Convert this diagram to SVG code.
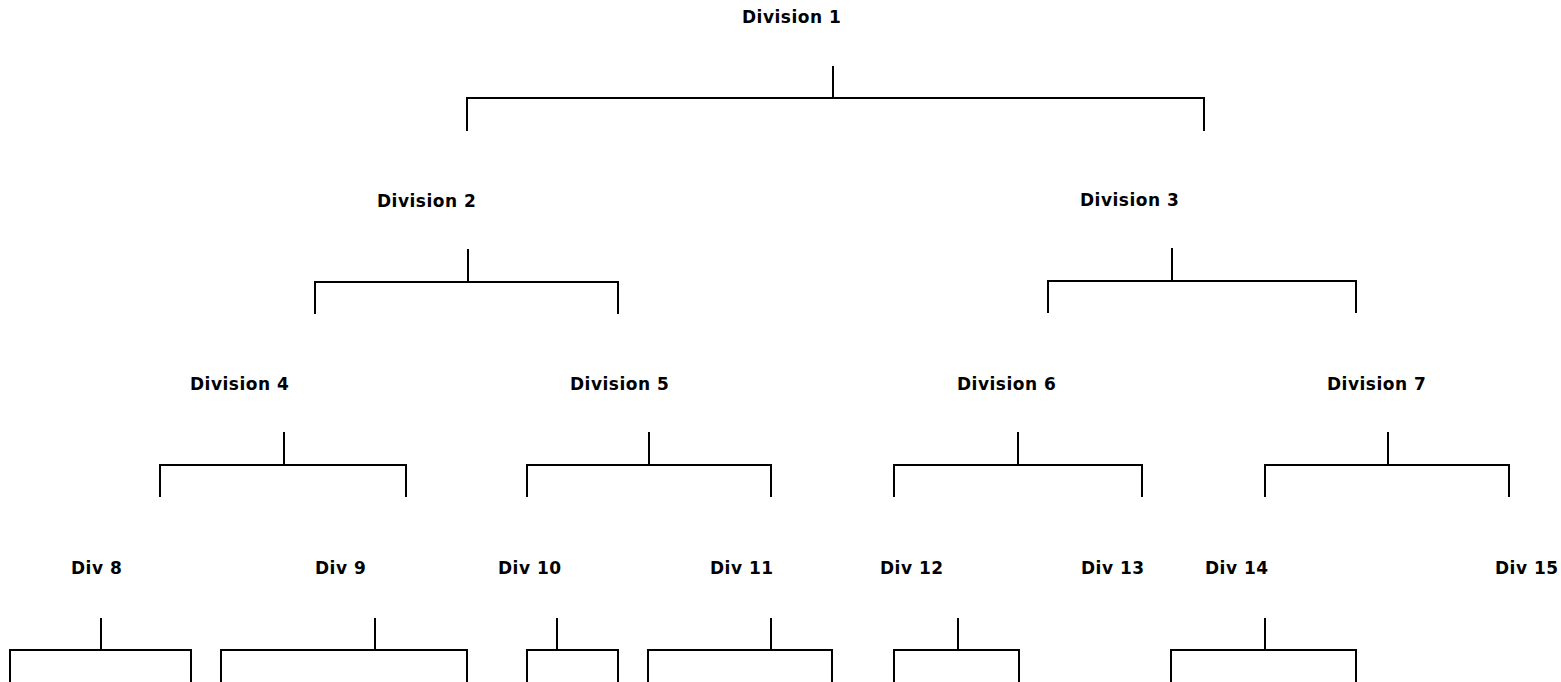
<svg xmlns="http://www.w3.org/2000/svg" width="1561" height="682" viewBox="0 0 1561 682">
<style>
.lbl{font-family:"DejaVu Sans","Liberation Sans",sans-serif;font-weight:bold;font-size:17px;letter-spacing:0.5px;fill:#000}
.br{fill:none;stroke:#000;stroke-width:2;stroke-linecap:square}
</style>
<rect width="1561" height="682" fill="#fff"/>
<g id="node-div1"><text class="lbl" x="742" y="23">Division 1</text></g>
<g id="node-div2"><text class="lbl" x="377" y="207">Division 2</text></g>
<g id="node-div3"><text class="lbl" x="1080" y="206">Division 3</text></g>
<g id="node-div4"><text class="lbl" x="190" y="390">Division 4</text></g>
<g id="node-div5"><text class="lbl" x="570" y="390">Division 5</text></g>
<g id="node-div6"><text class="lbl" x="957" y="390">Division 6</text></g>
<g id="node-div7"><text class="lbl" x="1327" y="390">Division 7</text></g>
<g id="node-div8"><text class="lbl" x="71" y="574">Div 8</text></g>
<g id="node-div9"><text class="lbl" x="315" y="574">Div 9</text></g>
<g id="node-div10"><text class="lbl" x="498" y="574">Div 10</text></g>
<g id="node-div11"><text class="lbl" x="710" y="574">Div 11</text></g>
<g id="node-div12"><text class="lbl" x="880" y="574">Div 12</text></g>
<g id="node-div13"><text class="lbl" x="1081" y="574">Div 13</text></g>
<g id="node-div14"><text class="lbl" x="1205" y="574">Div 14</text></g>
<g id="node-div15"><text class="lbl" x="1495" y="574">Div 15</text></g>
<g id="connectors">
<path class="br" d="M833 67V98M467 130V98H1204V130"/>
<path class="br" d="M468 250V282M315 313V282H618V313"/>
<path class="br" d="M1172 249V281M1048 312V281H1356V312"/>
<path class="br" d="M284 433V465M160 496V465H406V496"/>
<path class="br" d="M649 433V465M527 496V465H771V496"/>
<path class="br" d="M1018 433V465M894 496V465H1142V496"/>
<path class="br" d="M1388 433V465M1265 496V465H1509V496"/>
<path class="br" d="M101 619V650M10 684V650H191V684"/>
<path class="br" d="M375 619V650M221 684V650H467V684"/>
<path class="br" d="M557 619V650M527 684V650H618V684"/>
<path class="br" d="M771 619V650M648 684V650H832V684"/>
<path class="br" d="M958 619V650M894 684V650H1019V684"/>
<path class="br" d="M1265 619V650M1171 684V650H1356V684"/>
</g>
</svg>
